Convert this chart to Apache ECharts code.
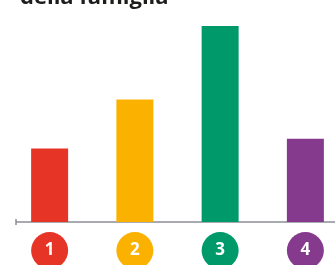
<!DOCTYPE html>
<html>
<head>
<meta charset="utf-8">
<script src="https://cdn.jsdelivr.net/npm/echarts@6/dist/echarts.min.js"></script>
<style>
  html, body { margin: 0; padding: 0; background: #fff; }
  #chart { width: 335px; height: 265px; }
</style>
</head>
<body>
<div id="chart"></div>
<script>
// dati
const categories = ['1', '2', '3', '4']
const values = [15, 25, 40, 17]
const colors = ['#e63427', '#fbb100', '#00996a', '#863a8e']
const richKeys = ['a', 'b', 'c', 'd']

const chart = echarts.init(document.getElementById('chart'))

// stili per i cerchi numerati sotto l'asse
const rich = {}
richKeys.forEach((k, i) => {
  rich[k] = {
    width: 37,
    height: 37,
    borderRadius: 18.5,
    backgroundColor: colors[i],
    color: '#fff',
    fontSize: 17,
    fontWeight: 'bold',
    fontFamily: 'Open Sans, sans-serif',
    align: 'center',
    lineHeight: 37
  }
})

const option = {
  animation: false,
  title: {
    text: 'della famiglia',
    left: 15,
    top: -18,
    textStyle: {
      fontSize: 22,
      fontWeight: 'bold',
      color: '#1d1d1b',
      fontFamily: 'Open Sans, sans-serif'
    }
  },
  grid: {
    left: 7,
    width: 341,
    top: 26,
    bottom: 43,
    containLabel: false,
    outerBoundsMode: 'none'
  },
  xAxis: {
    type: 'category',
    data: categories,
    axisLine: { show: false },
    axisTick: { show: false },
    axisLabel: {
      margin: 10,
      formatter: (v, i) => `{${richKeys[i]}|${v}}`,
      rich: rich
    }
  },
  yAxis: {
    type: 'value',
    min: 0,
    max: 40,
    show: false
  },
  graphic: [
    {
      type: 'line',
      shape: { x1: 16, y1: 222, x2: 335, y2: 222 },
      style: { stroke: '#8d8c99', lineWidth: 1.5 }
    },
    {
      type: 'line',
      shape: { x1: 16, y1: 219, x2: 16, y2: 225 },
      style: { stroke: '#8d8c99', lineWidth: 1.5 }
    }
  ],
  series: [
    {
      type: 'bar',
      barWidth: 37,
      data: values.map((v, i) => ({ value: v, itemStyle: { color: colors[i] } }))
    }
  ]
}

chart.setOption(option)
</script>
</body>
</html>
